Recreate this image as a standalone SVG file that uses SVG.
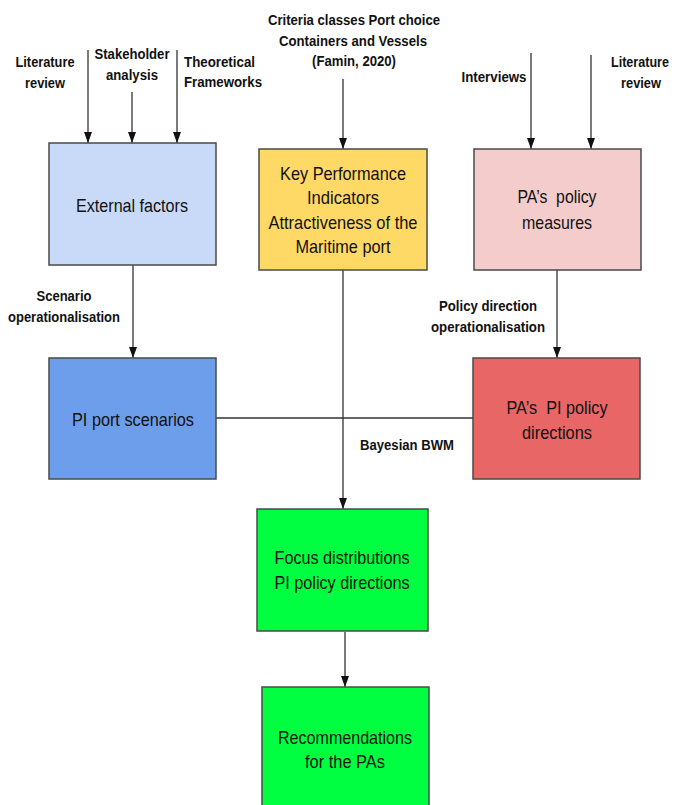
<svg xmlns="http://www.w3.org/2000/svg" width="674" height="805" viewBox="0 0 674 805">
<style>
.box{stroke:#4a4a4a;stroke-width:1.5}
.bt{font-family:"Liberation Sans",Arial,sans-serif;font-size:18.5px;fill:#111;text-anchor:middle}
.lb{font-family:"Liberation Sans",Arial,sans-serif;font-size:14px;font-weight:bold;fill:#111;text-anchor:middle}
.ln{stroke:#333;stroke-width:1.3;fill:none}
</style>
<defs>
<marker id="ah" markerWidth="11" markerHeight="8" refX="11" refY="4" orient="auto" markerUnits="userSpaceOnUse" viewBox="0 0 11 8">
<path d="M0,0 L11,4 L0,8 z" fill="#111"/>
</marker>
</defs>
<rect width="674" height="805" fill="#fff"/>
<g id="connectors">
<line class="ln" x1="88" y1="50" x2="88" y2="143" marker-end="url(#ah)"/>
<line class="ln" x1="132" y1="92" x2="132" y2="143" marker-end="url(#ah)"/>
<line class="ln" x1="177" y1="50" x2="177" y2="143" marker-end="url(#ah)"/>
<line class="ln" x1="343" y1="79" x2="343" y2="149" marker-end="url(#ah)"/>
<line class="ln" x1="531" y1="53" x2="531" y2="149" marker-end="url(#ah)"/>
<line class="ln" x1="591" y1="55" x2="591" y2="149" marker-end="url(#ah)"/>
<line class="ln" x1="133" y1="265" x2="133" y2="358" marker-end="url(#ah)"/>
<line class="ln" x1="557" y1="270" x2="557" y2="358" marker-end="url(#ah)"/>
<line class="ln" x1="216" y1="418" x2="473" y2="418"/>
<line class="ln" x1="343" y1="270" x2="343" y2="509" marker-end="url(#ah)"/>
<line class="ln" x1="345" y1="632" x2="345" y2="687" marker-end="url(#ah)"/>
</g>
<g id="labels">
<text class="lb" x="45" y="67" textLength="59" lengthAdjust="spacingAndGlyphs">Literature</text>
<text class="lb" x="45" y="88" textLength="40" lengthAdjust="spacingAndGlyphs">review</text>
<text class="lb" x="132" y="59" textLength="75" lengthAdjust="spacingAndGlyphs">Stakeholder</text>
<text class="lb" x="132" y="80" textLength="52" lengthAdjust="spacingAndGlyphs">analysis</text>
<text class="lb" x="184" y="67" style="text-anchor:start" textLength="71" lengthAdjust="spacingAndGlyphs">Theoretical</text>
<text class="lb" x="184" y="87" style="text-anchor:start" textLength="78" lengthAdjust="spacingAndGlyphs">Frameworks</text>
<text class="lb" x="354" y="25" textLength="172" lengthAdjust="spacingAndGlyphs">Criteria classes Port choice</text>
<text class="lb" x="353" y="46" textLength="148" lengthAdjust="spacingAndGlyphs">Containers and Vessels</text>
<text class="lb" x="354" y="66" textLength="84" lengthAdjust="spacingAndGlyphs">(Famin, 2020)</text>
<text class="lb" x="494" y="82" textLength="65" lengthAdjust="spacingAndGlyphs">Interviews</text>
<text class="lb" x="640" y="67" textLength="58" lengthAdjust="spacingAndGlyphs">Literature</text>
<text class="lb" x="641" y="88" textLength="40" lengthAdjust="spacingAndGlyphs">review</text>
<text class="lb" x="64" y="301" textLength="55" lengthAdjust="spacingAndGlyphs">Scenario</text>
<text class="lb" x="64" y="322" textLength="112" lengthAdjust="spacingAndGlyphs">operationalisation</text>
<text class="lb" x="488" y="311" textLength="98" lengthAdjust="spacingAndGlyphs">Policy direction</text>
<text class="lb" x="488" y="332" textLength="114" lengthAdjust="spacingAndGlyphs">operationalisation</text>
<text class="lb" x="407" y="450" textLength="94" lengthAdjust="spacingAndGlyphs">Bayesian BWM</text>
</g>
<g id="external">
<rect class="box" x="49" y="143" width="167" height="122" fill="#c9daf8"/>
<text class="bt" x="132" y="212" textLength="112" lengthAdjust="spacingAndGlyphs">External factors</text>
</g>
<g id="kpi">
<rect class="box" x="259" y="149" width="168" height="121" fill="#ffd966"/>
<text class="bt" x="343" y="180" textLength="126" lengthAdjust="spacingAndGlyphs">Key Performance</text>
<text class="bt" x="343" y="204" textLength="72" lengthAdjust="spacingAndGlyphs">Indicators</text>
<text class="bt" x="343" y="229" textLength="149" lengthAdjust="spacingAndGlyphs">Attractiveness of the</text>
<text class="bt" x="343" y="253" textLength="95" lengthAdjust="spacingAndGlyphs">Maritime port</text>
</g>
<g id="measures">
<rect class="box" x="474" y="149" width="167" height="121" fill="#f4cccc"/>
<text class="bt" x="557" y="203" textLength="79" lengthAdjust="spacingAndGlyphs" xml:space="preserve">PA’s  policy</text>
<text class="bt" x="557" y="229" textLength="70" lengthAdjust="spacingAndGlyphs">measures</text>
</g>
<g id="scenarios">
<rect class="box" x="49" y="358" width="167" height="121" fill="#6d9eeb"/>
<text class="bt" x="133" y="426" textLength="122" lengthAdjust="spacingAndGlyphs">PI port scenarios</text>
</g>
<g id="directions">
<rect class="box" x="473" y="358" width="167" height="121" fill="#e86666"/>
<text class="bt" x="557" y="414" textLength="101" lengthAdjust="spacingAndGlyphs" xml:space="preserve">PA’s  PI policy</text>
<text class="bt" x="557" y="439" textLength="70" lengthAdjust="spacingAndGlyphs">directions</text>
</g>
<g id="focus">
<rect class="box" x="257" y="509" width="171" height="122" fill="#00ff40"/>
<text class="bt" x="342" y="564" textLength="135" lengthAdjust="spacingAndGlyphs">Focus distributions</text>
<text class="bt" x="342" y="589" textLength="135" lengthAdjust="spacingAndGlyphs">PI policy directions</text>
</g>
<g id="recommendations">
<rect class="box" x="262" y="687" width="167" height="130" fill="#00ff40"/>
<text class="bt" x="345" y="744" textLength="134" lengthAdjust="spacingAndGlyphs">Recommendations</text>
<text class="bt" x="345" y="768" textLength="80" lengthAdjust="spacingAndGlyphs">for the PAs</text>
</g>
</svg>
